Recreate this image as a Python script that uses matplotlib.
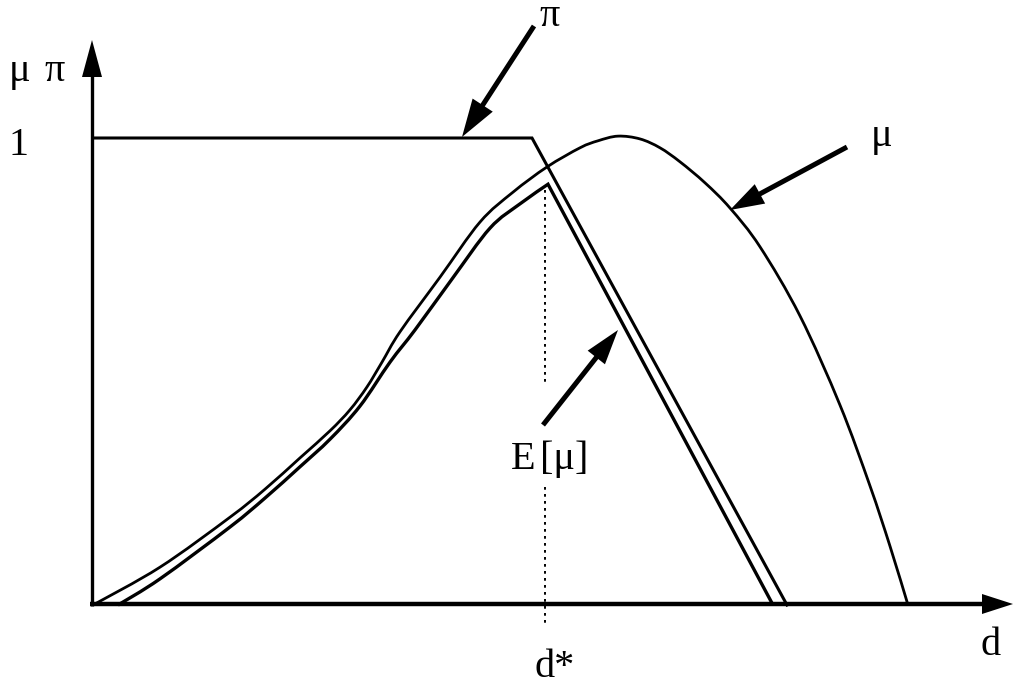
import matplotlib
matplotlib.use("Agg")
import matplotlib.pyplot as plt
from matplotlib.patches import Polygon, PathPatch
from matplotlib.path import Path
import numpy as np

# ---- data (d in arbitrary units, value in units of the "1" level) ----
pi_d = [0.00, 4.39, 6.94]
pi_v = [1.00, 1.00, 0.00]

mu_d = [0.00, 0.67, 1.37, 1.72, 2.07, 2.37, 2.57, 2.74, 2.89, 3.07, 3.47, 3.87,
        4.20, 4.54, 4.87, 5.05, 5.25, 5.47, 5.67, 5.87, 6.12, 6.37, 6.67, 7.07,
        7.47, 7.77, 7.97, 8.15]
mu_v = [0.000, 0.081, 0.188, 0.248, 0.315, 0.373, 0.418, 0.467, 0.520, 0.585,
        0.702, 0.820, 0.884, 0.938, 0.979, 0.994, 1.004, 0.998, 0.979, 0.949,
        0.904, 0.850, 0.767, 0.619, 0.428, 0.255, 0.126, 0.000]

emu_d = [0.25, 0.67, 1.37, 1.72, 2.07, 2.37, 2.67, 2.97, 3.22, 3.59, 3.97, 4.27,
         4.55, 6.80]
emu_v = [0.000, 0.056, 0.167, 0.229, 0.296, 0.355, 0.426, 0.520, 0.589, 0.698,
         0.807, 0.859, 0.901, 0.000]

dstar = 4.52
tick_label_one = "1"

# ---- layout helpers (pixel -> data) ----
W, H = 1014, 685
X0, Y0 = 93, 605
SX, SY = 100.0, 467.0


def P(x, y):
    return ((x - X0) / SX, (Y0 - y) / SY)


fig = plt.figure(figsize=(W / 100, H / 100), dpi=100)
ax = fig.add_axes([0, 0, 1, 1])
ax.set_xlim((0 - X0) / SX, (W - X0) / SX)
ax.set_ylim((Y0 - H) / SY, Y0 / SY)
ax.axis("off")

FONT = ["Liberation Serif", "DejaVu Serif"]
FS = 29


def smooth_verts(xs, ys):
    """Catmull-Rom curve through the given points as cubic Bezier segments."""
    pts = np.column_stack([xs, ys]).astype(float)
    n = len(pts)
    verts = [pts[0]]
    codes = [Path.MOVETO]
    for i in range(n - 1):
        p0 = pts[i - 1] if i > 0 else pts[i]
        p1, p2 = pts[i], pts[i + 1]
        p3 = pts[i + 2] if i + 2 < n else pts[i + 1]
        verts += [p1 + (p2 - p0) / 6.0, p2 - (p3 - p1) / 6.0, p2]
        codes += [Path.CURVE4] * 3
    return verts, codes


def draw_path(verts, codes, lw):
    ax.add_patch(PathPatch(Path(verts, codes), facecolor="none",
                           edgecolor="black", lw=lw, joinstyle="miter",
                           capstyle="butt"))


def head(tip, base_c, half_w):
    tx, ty = tip
    bx, by = base_c
    dx, dy = tx - bx, ty - by
    L = np.hypot(dx, dy)
    nx, ny = -dy / L, dx / L
    pts = [P(tx, ty), P(bx + nx * half_w, by + ny * half_w),
           P(bx - nx * half_w, by - ny * half_w)]
    ax.add_patch(Polygon(pts, closed=True, color="black", lw=0, zorder=5))


def arrow(start, tip, hl=34, hw=11, lw=3.6):
    sx, sy = start
    tx, ty = tip
    dx, dy = tx - sx, ty - sy
    L = np.hypot(dx, dy)
    bx, by = tx - dx / L * hl, ty - dy / L * hl
    a = P(sx, sy)
    b = P(bx + dx / L * 2, by + dy / L * 2)
    ax.plot([a[0], b[0]], [a[1], b[1]], color="black", lw=lw,
            solid_capstyle="butt", zorder=5)
    head(tip, (bx, by), hw)


# axes
ax.plot([P(92, 605)[0], P(92, 75)[0]], [P(92, 606)[1], P(92, 75)[1]],
        color="black", lw=2.4, solid_capstyle="butt")
head((92, 40), (92, 77), 10)
ax.plot([P(90, 604)[0], P(984, 604)[0]], [P(90, 604)[1], P(984, 604)[1]],
        color="black", lw=3.2, solid_capstyle="butt")
head((1013, 604), (982, 604), 10)

# curves
ax.plot(pi_d, pi_v, color="black", lw=2.2, solid_joinstyle="miter")

v, c = smooth_verts(mu_d, mu_v)
draw_path(v, c, 2.0)

v, c = smooth_verts(emu_d[:-1], emu_v[:-1])
v.append((emu_d[-1], emu_v[-1]))
c.append(Path.LINETO)
draw_path(v, c, 2.4)

# d* dotted line
ax.plot([dstar, dstar], [P(0, 190)[1], P(0, 383)[1]], color="black", lw=1.4,
        linestyle=(0, (1.4, 2.2)))
ax.plot([dstar, dstar], [P(0, 487)[1], P(0, 626)[1]], color="black", lw=1.4,
        linestyle=(0, (1.4, 2.2)))

# annotation arrows
arrow((534, 26), (462, 137), hl=38, hw=12)
arrow((847, 147), (730, 210), hl=34, hw=11)
arrow((543, 425), (618, 330), hl=35, hw=11)


# texts (baseline positions)
def T(x, y, s, fs=FS):
    ax.text(*P(x, y), s, fontsize=fs, family=FONT, ha="left", va="baseline")


T(9, 81, "μ")
T(44, 81, "π")
T(8, 155, tick_label_one)
T(539, 26, "π")
T(871, 146, "μ")
T(511, 469, "E")
T(540, 469, "[μ]")
T(534, 677, "d*")
T(981, 655, "d")

fig.savefig("out.png", dpi=100)
